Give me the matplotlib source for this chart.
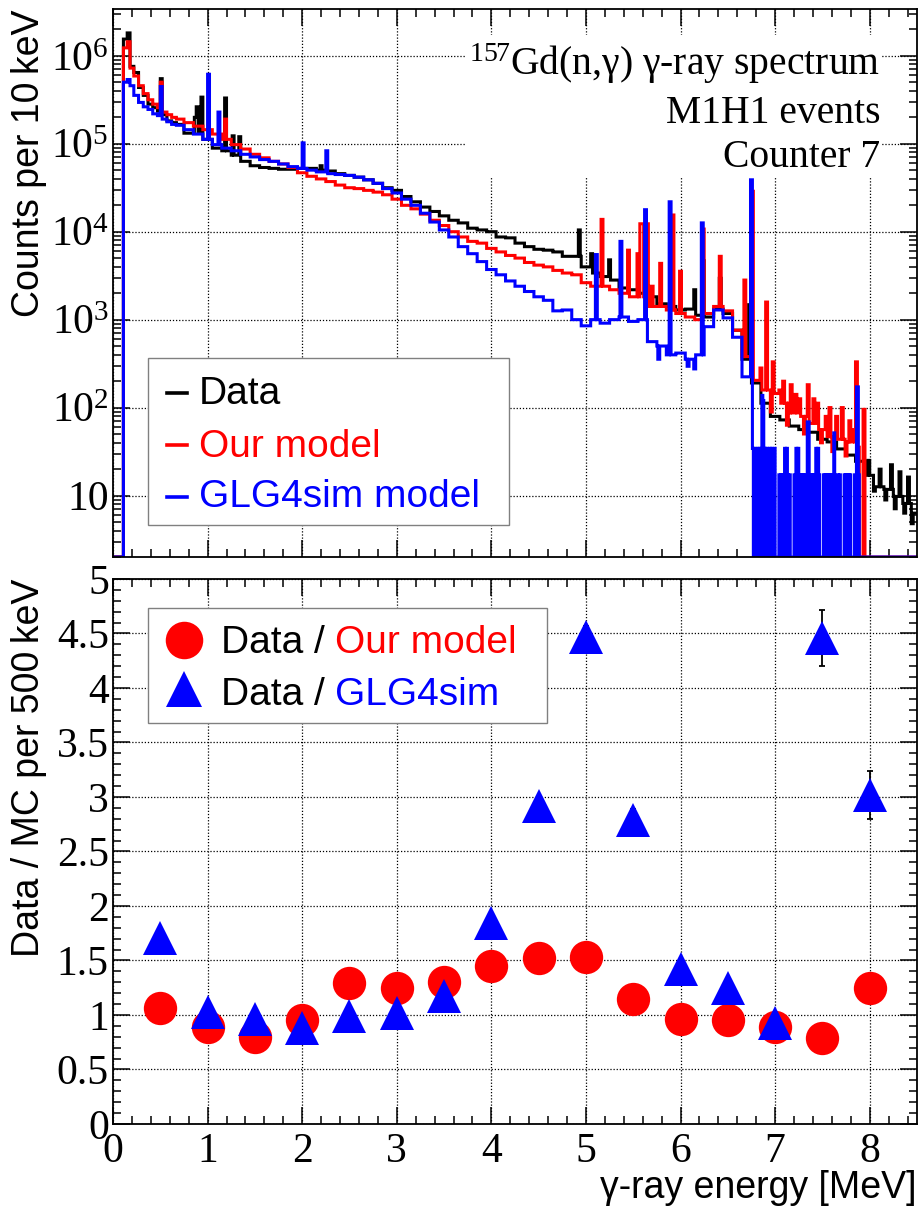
import numpy as np
import matplotlib
matplotlib.use('Agg')
import matplotlib.pyplot as plt
from matplotlib.patches import Rectangle
from matplotlib.ticker import MultipleLocator, LogLocator, FuncFormatter, NullFormatter

plt.rcParams['font.family'] = 'Liberation Serif'
plt.rcParams['mathtext.fontset'] = 'custom'
plt.rcParams['mathtext.rm'] = 'Liberation Serif'
plt.rcParams['mathtext.it'] = 'Liberation Serif:italic'
plt.rcParams['mathtext.bf'] = 'Liberation Serif:bold'

# ---- spectrum: log10(counts per 10 keV), read every 0.1 MeV (0.0 ... 8.5 MeV)
grid_step = 0.1
data_log = [None, 6.19, 5.88, 5.64, 5.45, 5.37, 5.26, 5.22, 5.12, 5.14,
            5.05, 4.95, 4.92, 4.87, 4.80, 4.75, 4.73, 4.72, 4.71, 4.71,
            4.72, 4.72, 4.70, 4.69, 4.66, 4.64, 4.62, 4.59, 4.55, 4.50,
            4.47, 4.40, 4.34, 4.28, 4.23, 4.18, 4.13, 4.10, 4.04, 4.02,
            4.00, 3.94, 3.93, 3.87, 3.83, 3.80, 3.79, 3.77, 3.72, 3.72,
            3.60, 3.53, 3.49, 3.45, 3.36, 3.34, 3.30, 3.26, 3.18, 3.15,
            3.11, 3.12, 3.05, 3.03, 3.12, 3.07, 2.88, 2.55, 2.28, 2.05,
            1.90, 1.86, 1.79, 1.75, 1.72, 1.64, 1.61, 1.53, 1.46, 1.39,
            1.23, 1.10, 1.07, 0.99, 0.91, 0.80]
our_log = [None, 6.09, 5.86, 5.66, 5.50, 5.41, 5.33, 5.28, 5.24, 5.20,
           5.16, 5.11, 5.05, 4.99, 4.94, 4.88, 4.84, 4.80, 4.77, 4.73,
           4.67, 4.63, 4.60, 4.57, 4.53, 4.50, 4.49, 4.47, 4.45, 4.42,
           4.37, 4.30, 4.26, 4.20, 4.13, 4.07, 4.00, 3.94, 3.89, 3.87,
           3.81, 3.77, 3.73, 3.70, 3.65, 3.62, 3.60, 3.56, 3.53, 3.51,
           3.42, 3.38, 3.38, 3.34, 3.30, 3.26, 3.26, 3.15, 3.15, 3.11,
           3.07, 3.03, 3.00, 3.07, 3.15, 3.10, 2.88, 2.58, 2.31, 2.20,
           2.16, 2.05, 1.94, 1.90, 1.82, 1.75, 1.67, 1.64, 1.61, 1.55,
           None, None, None, None, None, None]
glg_log = [None, 5.70, 5.66, 5.47, 5.39, 5.32, 5.25, 5.21, 5.16, 5.11,
           5.05, 4.99, 4.95, 4.92, 4.88, 4.85, 4.82, 4.80, 4.77, 4.74,
           4.72, 4.70, 4.68, 4.66, 4.65, 4.64, 4.62, 4.59, 4.55, 4.49,
           4.44, 4.37, 4.30, 4.21, 4.11, 4.02, 3.94, 3.83, 3.75, 3.66,
           3.57, 3.51, 3.44, 3.38, 3.32, 3.26, 3.22, 3.10, 3.11, 3.00,
           2.93, 3.00, 2.96, 3.00, 3.03, 2.98, 3.00, 2.75, 2.70, 2.60,
           2.62, 2.55, 2.60, 2.92, 3.11, 3.02, 2.80, 2.35, None, None,
           None, None, None, None, None, None, None, None, None, None,
           None, None, None, None, None, None]

# finer readings between grid points and narrow lines: (from MeV, to MeV, log10 counts)
data_lines = [(0.0, 0.11, None), (0.15, 0.18, 6.26), (0.225, 0.275, 5.81),
              (0.325, 0.375, 5.55), (0.425, 0.475, 5.41), (0.525, 0.575, 5.33),
              (0.625, 0.675, 5.24), (0.50, 0.52, 5.74),
              (0.86, 0.88, 5.30), (0.88, 0.90, 5.42), (0.93, 0.95, 5.53),
              (1.18, 1.20, 5.52), (1.26, 1.28, 5.09), (1.33, 1.35, 5.08),
              (2.19, 2.21, 4.75), (4.92, 4.94, 4.02), (5.05, 5.07, 3.75),
              (5.24, 5.26, 3.68), (6.14, 6.16, 3.34), (6.23, 6.25, 3.67),
              (6.41, 6.43, 3.47), (6.72, 6.74, 3.17),
              (7.98, 8.00, 1.40), (8.04, 8.06, 1.05), (8.10, 8.12, 1.30),
              (8.16, 8.18, 0.95), (8.22, 8.24, 1.35), (8.26, 8.28, 0.85),
              (8.31, 8.33, 1.27), (8.36, 8.38, 0.80), (8.40, 8.42, 1.21),
              (8.44, 8.46, 0.68)]
our_lines = [(0.0, 0.11, None), (0.15, 0.18, 6.16), (0.225, 0.275, 5.77),
             (0.325, 0.375, 5.57), (0.425, 0.475, 5.45), (0.525, 0.575, 5.36),
             (0.625, 0.675, 5.30), (0.50, 0.52, 5.70),
             (1.18, 1.20, 5.28), (5.16, 5.18, 4.14), (5.44, 5.46, 3.79),
             (5.54, 5.56, 3.75), (5.57, 5.61, 4.09), (5.63, 5.66, 4.09),
             (5.69, 5.71, 3.38), (5.78, 5.80, 3.64), (5.91, 5.93, 4.19),
             (5.99, 6.01, 3.55), (6.23, 6.25, 4.03), (6.41, 6.43, 3.72),
             (6.67, 6.69, 3.45), (6.75, 6.77, 4.46), (6.84, 6.86, 2.45),
             (6.90, 6.92, 3.20), (6.95, 6.97, 1.95), (6.97, 6.99, 2.52),
             (7.04, 7.06, 2.20), (7.08, 7.10, 2.30), (7.12, 7.14, 1.80),
             (7.16, 7.18, 2.26), (7.21, 7.23, 2.15), (7.25, 7.27, 2.10),
             (7.30, 7.32, 1.70), (7.34, 7.36, 2.26), (7.40, 7.42, 2.10),
             (7.44, 7.46, 2.05), (7.48, 7.50, 1.60), (7.53, 7.55, 1.90),
             (7.57, 7.59, 2.00), (7.60, 7.62, 1.50), (7.64, 7.66, 1.90),
             (7.70, 7.72, 2.00), (7.74, 7.76, 1.45), (7.78, 7.80, 1.85),
             (7.82, 7.84, 1.75), (7.85, 7.87, 2.52),
             (7.89, 7.93, None), (7.93, 7.95, 1.98)]
glg_lines = [(0.0, 0.11, None), (0.15, 0.18, 5.73), (0.225, 0.275, 5.55),
             (0.325, 0.375, 5.42), (0.425, 0.475, 5.34), (0.525, 0.575, 5.28),
             (0.625, 0.675, 5.22), (0.50, 0.52, 5.65),
             (1.00, 1.02, 5.79), (1.11, 1.13, 5.36), (2.00, 2.02, 5.01),
             (2.25, 2.27, 4.92), (5.10, 5.12, 3.74), (5.36, 5.38, 3.89),
             (5.62, 5.64, 4.25), (5.76, 5.78, 2.55), (5.88, 5.90, 4.34),
             (6.07, 6.09, 2.47), (6.14, 6.16, 2.44), (6.22, 6.24, 4.10),
             (6.74, 6.76, 4.59), (7.90, 8.50, None)]

# GLG4sim tail: MC counts per 10 keV from 6.76 MeV, one count = 17.2
glg_tail_start = 6.76
glg_tail_unit = 17.2
glg_tail_counts = [2, 0, 2, 1, 0, 2, 0, 2, 0, 0, 8, 7, 0, 2, 0, 2, 1, 0, 2, 0,
                   2, 0, 1, 2, 0, 0, 0, 0, 1, 0, 1, 0, 1, 0, 2, 0, 2, 1, 0, 1,
                   0, 0, 0, 0, 1, 0, 2, 0, 2, 1, 0, 1, 0, 1, 0, 1, 0, 0, 4, 4,
                   0, 1, 0, 1, 0, 1, 0, 2, 0, 2, 1, 0, 0, 0, 0, 1, 0, 1, 0, 1,
                   0, 1, 0, 1, 0, 1, 3, 0, 0, 0, 1, 0, 1, 0, 0, 0, 0, 1, 0, 1,
                   0, 1, 0, 1, 0, 0, 0, 0, 1, 0, 10, 10, 1, 0]

# ---- ratio panel (500 keV bins)
ratio_e = [0.5, 1.0, 1.5, 2.0, 2.5, 3.0, 3.5, 4.0, 4.5, 5.0, 5.5, 6.0, 6.5, 7.0, 7.5, 8.0]
ratio_our = [1.06, 0.89, 0.80, 0.95, 1.29, 1.25, 1.30, 1.45, 1.52, 1.53, 1.15, 0.96, 0.95, 0.89, 0.79, 1.25]
ratio_glg = [1.71, 1.03, 0.96, 0.88, 0.99, 1.02, 1.17, 1.84, 2.92, 4.47, 2.79, 1.42, 1.25, 0.93, 4.46, 3.02]
ratio_glg_err = [0.02, 0.01, 0.01, 0.01, 0.01, 0.01, 0.01, 0.02, 0.05, 0.10, 0.10, 0.05, 0.05, 0.05, 0.26, 0.22]

edges = np.round(np.arange(851) * 0.01, 2)
centers = edges[:-1] + 0.005


def build(cont, lines, tail=None):
    idx = np.rint(centers / grid_step).astype(int)
    lv = np.array([np.nan if v is None else v for v in cont])[idx]
    counts = np.where(np.isnan(lv), 0.0, 10.0 ** np.nan_to_num(lv))
    if tail is not None:
        start, unit, cnt = tail
        for i, c in enumerate(cnt):
            lo = start + 0.01 * i
            counts[(centers >= lo) & (centers < lo + 0.01)] = c * unit
    for lo, hi, v in lines:
        sel = (centers >= lo) & (centers < hi)
        counts[sel] = 0.0 if v is None else 10.0 ** v
    return counts


h_data = build(data_log, data_lines)
h_our = build(our_log, our_lines)
h_glg = build(glg_log, glg_lines, (glg_tail_start, glg_tail_unit, glg_tail_counts))

ymin, ymax = 2.0, 3.4e6
grid_kw = dict(color='k', linestyle=(0, (1, 1.5)), linewidth=0.9)
sans = 'Liberation Sans'

fig = plt.figure(figsize=(9.18, 12.07), dpi=100)
ax1 = fig.add_axes([0.1231, 0.5385, 0.8758, 0.4540])
ax2 = fig.add_axes([0.1231, 0.0688, 0.8758, 0.4515])

# ---- top: spectra
for h, col in [(h_data, 'black'), (h_our, '#ff0000'), (h_glg, '#0000ff')]:
    ax1.stairs(np.maximum(h, ymin), edges, color=col, lw=2.2, baseline=None)

ax1.set_yscale('log')
ax1.set_xlim(0, 8.5)
ax1.set_ylim(ymin, ymax)
ax1.yaxis.set_major_locator(LogLocator(base=10, numticks=20))
ax1.yaxis.set_minor_locator(LogLocator(base=10, subs=np.arange(2, 10), numticks=50))
ax1.yaxis.set_major_formatter(FuncFormatter(
    lambda v, p: '10' if abs(v - 10) < 1e-6 else r'$\mathdefault{10^{%d}}$' % round(np.log10(v))))
ax1.yaxis.set_minor_formatter(NullFormatter())
ax1.tick_params(labelbottom=False)
ax1.set_ylabel('Counts per 10\u2009keV', family=sans, fontsize=27, loc='top')
ax1.yaxis.set_label_coords(-0.082, 1.0)

# text block
ax1.add_patch(Rectangle((0.4378, 0.6934), 0.5174, 0.2591, transform=ax1.transAxes,
                        facecolor='white', edgecolor='none', zorder=4))
for txt, yy in [(r'$^{157}$Gd(n,γ) γ-ray spectrum', 0.8796),
                ('M1H1 events', 0.7925), ('Counter 7', 0.7122)]:
    ax1.text(0.954, yy, txt, transform=ax1.transAxes, ha='right', va='baseline',
             fontsize=28.5, zorder=6)

# legend
ax1.add_patch(Rectangle((0.0435, 0.0584), 0.449, 0.3047, transform=ax1.transAxes,
                        facecolor='white', edgecolor='#808080', lw=1.0, zorder=5))
for lab, col, ym, yb in [('Data', 'black', 0.2987, 0.2792),
                         ('Our model', '#ff0000', 0.2044, 0.1834),
                         ('GLG4sim model', '#0000ff', 0.1100, 0.0907)]:
    ax1.plot([0.0672, 0.0920], [ym, ym], transform=ax1.transAxes, color=col, lw=2.6, zorder=6)
    ax1.text(0.1066, yb, lab, transform=ax1.transAxes, color=col, family=sans,
             fontsize=28, va='baseline', ha='left', zorder=6)

# ---- bottom: ratios
ax2.plot(ratio_e, ratio_our, 'o', color='#ff0000', ms=24, mew=0, zorder=3)
ax2.errorbar(ratio_e, ratio_glg, yerr=ratio_glg_err, fmt='none', ecolor='black',
             elinewidth=1.3, capsize=2, capthick=1.3, zorder=3.5)
ax2.plot(ratio_e, ratio_glg, '^', color='#0000ff', ms=24, mew=0, zorder=4)
ax2.set_xlim(0, 8.5)
ax2.set_ylim(0, 5)
ax2.yaxis.set_major_locator(MultipleLocator(0.5))
ax2.yaxis.set_minor_locator(MultipleLocator(0.1))
ax2.yaxis.set_major_formatter(FuncFormatter(lambda v, p: '%g' % v))
ax2.set_ylabel('Data / MC per 500\u2009keV', family=sans, fontsize=27, loc='top')
ax2.yaxis.set_label_coords(-0.082, 1.0)
ax2.set_xlabel('γ-ray energy [MeV]', family=sans, fontsize=27, loc='right')
ax2.xaxis.set_label_coords(1.0, -0.085)

ax2.add_patch(Rectangle((0.0435, 0.7358), 0.4963, 0.211, transform=ax2.transAxes,
                        facecolor='white', edgecolor='#808080', lw=1.0, zorder=5))
ax2.plot([0.0883], [0.8881], 'o', color='#ff0000', ms=27, mew=0,
         transform=ax2.transAxes, zorder=6)
ax2.plot([0.0883], [0.7982], '^', color='#0000ff', ms=26, mew=0,
         transform=ax2.transAxes, zorder=6)
for lab, col, yb in [('Our model', '#ff0000', 0.8648), ('GLG4sim', '#0000ff', 0.7688)]:
    t = ax2.text(0.1343, yb, 'Data /', transform=ax2.transAxes, family=sans,
                 fontsize=28, va='baseline', ha='left', zorder=6)
    ax2.annotate(lab, xy=(1, 0), xycoords=t, xytext=(7.5, 0), textcoords='offset points',
                 color=col, family=sans, fontsize=28, va='bottom', ha='left', zorder=6)

for ax in (ax1, ax2):
    ax.set_axisbelow(True)
    ax.grid(True, which='major', **grid_kw)
    ax.xaxis.set_major_locator(MultipleLocator(1))
    ax.xaxis.set_minor_locator(MultipleLocator(0.2))
    ax.tick_params(which='both', direction='in', top=True, right=True,
                   width=1.1, labelsize=30, colors='black')
    ax.tick_params(which='major', length=12)
    ax.tick_params(which='minor', length=6)
    ax.tick_params(axis='y', pad=3)
    ax.tick_params(axis='x', pad=6)
    for s in ax.spines.values():
        s.set_linewidth(1.3)

fig.savefig('out.png', dpi=100)
